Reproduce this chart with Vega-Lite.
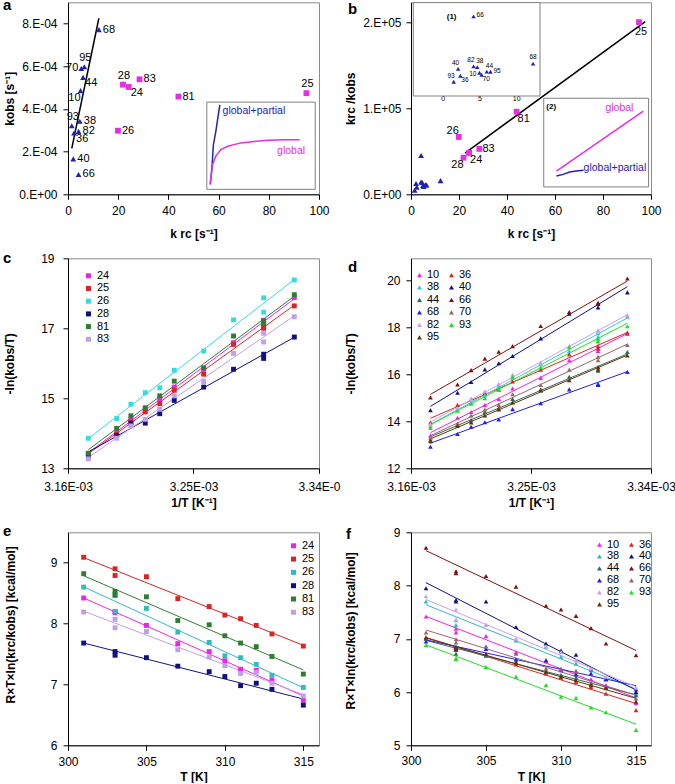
{
"$schema": "https://vega.github.io/schema/vega-lite/v6.json",
"padding": {"left": 2, "top": -2.7, "right": 0, "bottom": 0},
"config": {
 "font": "Liberation Sans",
 "view": {"stroke": "#8c8c8c", "strokeWidth": 1},
 "axis": {"grid": false, "domainColor": "#000000", "tickColor": "#000000", "tickSize": 5, "labelFontSize": 12, "labelColor": "#000000", "labelFont": "Liberation Sans", "titleFont": "Liberation Sans", "titleFontSize": 12, "titleFontWeight": "bold", "titleColor": "#000000", "labelOverlap": false, "labelFlush": false},
 "title": {"fontSize": 15, "fontWeight": "bold", "anchor": "start", "frame": "group", "offset": 0, "color": "#000000"},
 "legend": {"labelFontSize": 11, "labelColor": "#000000", "symbolSize": 25, "labelOffset": 3, "padding": 0, "symbolStrokeWidth": 0}
},
"datasets": {
 "ab": [
  {"id":"68","g":"global+partial","krc":12.3,"kobs":0.000772,"r":15933},
  {"id":"95","g":"global+partial","krc":6.5,"kobs":0.000598,"r":10870},
  {"id":"70","g":"global+partial","krc":5.3,"kobs":0.00059,"r":8983},
  {"id":"44","g":"global+partial","krc":6.0,"kobs":0.000548,"r":10949},
  {"id":"10","g":"global+partial","krc":5.0,"kobs":0.000486,"r":10288},
  {"id":"38","g":"global+partial","krc":4.7,"kobs":0.000342,"r":13743},
  {"id":"93","g":"global+partial","krc":1.5,"kobs":0.000321,"r":4673},
  {"id":"82","g":"global+partial","krc":4.2,"kobs":0.000295,"r":14237},
  {"id":"36","g":"global+partial","krc":2.4,"kobs":0.000287,"r":8362},
  {"id":"40","g":"global+partial","krc":2.1,"kobs":0.000166,"r":12651},
  {"id":"66","g":"global+partial","krc":4.2,"kobs":0.000093,"r":45161},
  {"id":"28","g":"global","krc":21.9,"kobs":0.000514,"r":42607},
  {"id":"24","g":"global","krc":24.2,"kobs":0.000503,"r":48111},
  {"id":"83","g":"global","krc":28.5,"kobs":0.000539,"r":52876},
  {"id":"81","g":"global","krc":44.0,"kobs":0.000458,"r":96070},
  {"id":"26","g":"global","krc":19.9,"kobs":0.000298,"r":66779},
  {"id":"25","g":"global","krc":95.0,"kobs":0.000474,"r":200422}
 ],
 "aBox": [{"x1":55.3,"x2":98.5,"y1":0.0000233,"y2":0.000432}],
 "aCurve": [
  {"g":"global+partial","o":1,"x":56.7,"y":0.0000466},
  {"g":"global+partial","o":2,"x":57.4,"y":0.000132},
  {"g":"global+partial","o":3,"x":57.9,"y":0.00023},
  {"g":"global+partial","o":4,"x":58.9,"y":0.000295},
  {"g":"global+partial","o":5,"x":59.9,"y":0.000373},
  {"g":"global+partial","o":6,"x":60.5,"y":0.000419},
  {"g":"global","o":1,"x":56.6,"y":0.0000466},
  {"g":"global","o":2,"x":57.6,"y":0.00014},
  {"g":"global","o":3,"x":58.9,"y":0.000179},
  {"g":"global","o":4,"x":60.9,"y":0.00021},
  {"g":"global","o":5,"x":63.6,"y":0.000225},
  {"g":"global","o":6,"x":68.9,"y":0.000241},
  {"g":"global","o":7,"x":74.2,"y":0.000248},
  {"g":"global","o":8,"x":79.5,"y":0.000253},
  {"g":"global","o":9,"x":86.1,"y":0.000256},
  {"g":"global","o":10,"x":92.3,"y":0.000256}
 ],
 "aText": [
  {"t":"global+partial","g":"global+partial","x":61.6,"y":0.000391},
  {"t":"global","g":"global","x":83.3,"y":0.000205}
 ],
 "bBox": [
  {"x1":0.96,"x2":53.75,"y1":114430,"y2":223150},
  {"x1":55.3,"x2":99.0,"y1":8600,"y2":111800}
 ],
 "bCurve": [
  {"g":"global","o":1,"x":60.6,"y":27100},
  {"g":"global","o":2,"x":96.8,"y":96700},
  {"g":"global+partial","o":1,"x":60.6,"y":21300},
  {"g":"global+partial","o":2,"x":63.4,"y":23200},
  {"g":"global+partial","o":3,"x":66.1,"y":26000},
  {"g":"global+partial","o":4,"x":68.9,"y":27100},
  {"g":"global+partial","o":5,"x":71.9,"y":27900}
 ],
 "bText": [
  {"t":"global","g":"global","x":81.0,"y":100200},
  {"t":"global+partial","g":"global+partial","x":71.9,"y":31000}
 ],
 "bTag": [{"t":"(2)","x":56.4,"y":101700}],
 "bLine": [{"x":22.5,"y":48000},{"x":97.6,"y":201000}],
 "bTag1": [{"t":"(1)","x":0.55,"y":45000}],
 "ce": [
  {"s":"24","T":315,"it":0.0031746,"l":13.40,"g":6.74},
  {"s":"24","T":313,"it":0.0031949,"l":14.02,"g":7.07},
  {"s":"24","T":312,"it":0.0032051,"l":14.40,"g":7.23},
  {"s":"24","T":311,"it":0.0032154,"l":14.69,"g":7.25},
  {"s":"24","T":310,"it":0.0032258,"l":14.99,"g":7.39},
  {"s":"24","T":309,"it":0.0032362,"l":15.32,"g":7.54},
  {"s":"24","T":307,"it":0.0032573,"l":15.83,"g":7.67},
  {"s":"24","T":305,"it":0.0032787,"l":16.59,"g":7.97},
  {"s":"24","T":303,"it":0.0033003,"l":17.07,"g":8.20},
  {"s":"24","T":303,"it":0.0033003,"l":17.23,"g":8.18},
  {"s":"24","T":301,"it":0.0033223,"l":17.88,"g":8.42},
  {"s":"25","T":315,"it":0.0031746,"l":13.42,"g":7.63},
  {"s":"25","T":313,"it":0.0031949,"l":13.97,"g":7.83},
  {"s":"25","T":312,"it":0.0032051,"l":14.32,"g":7.97},
  {"s":"25","T":311,"it":0.0032154,"l":14.61,"g":8.08},
  {"s":"25","T":310,"it":0.0032258,"l":14.85,"g":8.14},
  {"s":"25","T":309,"it":0.0032362,"l":15.23,"g":8.28},
  {"s":"25","T":307,"it":0.0032573,"l":15.69,"g":8.41},
  {"s":"25","T":305,"it":0.0032787,"l":16.54,"g":8.77},
  {"s":"25","T":303,"it":0.0033003,"l":17.00,"g":8.90},
  {"s":"25","T":303,"it":0.0033003,"l":17.03,"g":8.79},
  {"s":"25","T":301,"it":0.0033223,"l":17.64,"g":9.09},
  {"s":"26","T":315,"it":0.0031746,"l":13.86,"g":6.95},
  {"s":"26","T":313,"it":0.0031949,"l":14.42,"g":7.15},
  {"s":"26","T":312,"it":0.0032051,"l":14.83,"g":7.33},
  {"s":"26","T":311,"it":0.0032154,"l":15.16,"g":7.44},
  {"s":"26","T":310,"it":0.0032258,"l":15.30,"g":7.47},
  {"s":"26","T":309,"it":0.0032362,"l":15.80,"g":7.69},
  {"s":"26","T":307,"it":0.0032573,"l":16.35,"g":7.86},
  {"s":"26","T":305,"it":0.0032787,"l":17.24,"g":8.25},
  {"s":"26","T":303,"it":0.0033003,"l":17.46,"g":8.46},
  {"s":"26","T":303,"it":0.0033003,"l":17.87,"g":8.20},
  {"s":"26","T":301,"it":0.0033223,"l":18.38,"g":8.60},
  {"s":"28","T":315,"it":0.0031746,"l":13.35,"g":6.66},
  {"s":"28","T":313,"it":0.0031949,"l":13.94,"g":6.92},
  {"s":"28","T":312,"it":0.0032051,"l":14.29,"g":7.02},
  {"s":"28","T":311,"it":0.0032154,"l":14.29,"g":6.98},
  {"s":"28","T":310,"it":0.0032258,"l":14.56,"g":7.13},
  {"s":"28","T":309,"it":0.0032362,"l":14.94,"g":7.21},
  {"s":"28","T":307,"it":0.0032573,"l":15.32,"g":7.30},
  {"s":"28","T":305,"it":0.0032787,"l":15.83,"g":7.44},
  {"s":"28","T":303,"it":0.0033003,"l":16.26,"g":7.54},
  {"s":"28","T":303,"it":0.0033003,"l":16.14,"g":7.48},
  {"s":"28","T":301,"it":0.0033223,"l":16.75,"g":7.68},
  {"s":"81","T":315,"it":0.0031746,"l":13.43,"g":7.17},
  {"s":"81","T":313,"it":0.0031949,"l":14.14,"g":7.46},
  {"s":"81","T":312,"it":0.0032051,"l":14.50,"g":7.62},
  {"s":"81","T":311,"it":0.0032154,"l":14.73,"g":7.68},
  {"s":"81","T":310,"it":0.0032258,"l":15.07,"g":7.80},
  {"s":"81","T":309,"it":0.0032362,"l":15.49,"g":7.98},
  {"s":"81","T":307,"it":0.0032573,"l":15.87,"g":8.05},
  {"s":"81","T":305,"it":0.0032787,"l":16.78,"g":8.44},
  {"s":"81","T":303,"it":0.0033003,"l":17.13,"g":8.53},
  {"s":"81","T":303,"it":0.0033003,"l":17.21,"g":8.47},
  {"s":"81","T":301,"it":0.0033223,"l":17.96,"g":8.82},
  {"s":"83","T":315,"it":0.0031746,"l":13.27,"g":6.81},
  {"s":"83","T":313,"it":0.0031949,"l":13.86,"g":7.02},
  {"s":"83","T":312,"it":0.0032051,"l":14.21,"g":7.20},
  {"s":"83","T":311,"it":0.0032154,"l":14.40,"g":7.18},
  {"s":"83","T":310,"it":0.0032258,"l":14.69,"g":7.31},
  {"s":"83","T":309,"it":0.0032362,"l":15.07,"g":7.45},
  {"s":"83","T":307,"it":0.0032573,"l":15.48,"g":7.57},
  {"s":"83","T":305,"it":0.0032787,"l":16.28,"g":7.87},
  {"s":"83","T":303,"it":0.0033003,"l":16.61,"g":8.07},
  {"s":"83","T":303,"it":0.0033003,"l":16.86,"g":7.93},
  {"s":"83","T":301,"it":0.0033223,"l":17.33,"g":8.19}
 ],
 "df": [
  {"s":"10","T":315,"it":0.0031746,"l":13.40,"g":5.79},
  {"s":"10","T":313,"it":0.0031949,"l":14.15,"g":6.13},
  {"s":"10","T":312,"it":0.0032051,"l":14.40,"g":6.24},
  {"s":"10","T":311,"it":0.0032154,"l":14.70,"g":6.38},
  {"s":"10","T":310,"it":0.0032258,"l":14.95,"g":6.44},
  {"s":"10","T":309,"it":0.0032362,"l":15.40,"g":6.58},
  {"s":"10","T":307,"it":0.0032573,"l":15.85,"g":6.75},
  {"s":"10","T":305,"it":0.0032787,"l":16.60,"g":7.05},
  {"s":"10","T":303,"it":0.0033003,"l":17.00,"g":7.19},
  {"s":"10","T":303,"it":0.0033003,"l":17.10,"g":7.12},
  {"s":"10","T":301,"it":0.0033223,"l":17.72,"g":7.42},
  {"s":"36","T":315,"it":0.0031746,"l":13.95,"g":5.66},
  {"s":"36","T":313,"it":0.0031949,"l":14.70,"g":5.97},
  {"s":"36","T":312,"it":0.0032051,"l":14.95,"g":6.09},
  {"s":"36","T":311,"it":0.0032154,"l":15.20,"g":6.19},
  {"s":"36","T":310,"it":0.0032258,"l":15.35,"g":6.27},
  {"s":"36","T":309,"it":0.0032362,"l":15.70,"g":6.35},
  {"s":"36","T":307,"it":0.0032573,"l":16.20,"g":6.52},
  {"s":"36","T":305,"it":0.0032787,"l":16.85,"g":6.68},
  {"s":"36","T":303,"it":0.0033003,"l":17.10,"g":6.83},
  {"s":"36","T":303,"it":0.0033003,"l":17.20,"g":6.80},
  {"s":"36","T":301,"it":0.0033223,"l":17.78,"g":7.01},
  {"s":"38","T":315,"it":0.0031746,"l":13.80,"g":5.97},
  {"s":"38","T":313,"it":0.0031949,"l":14.50,"g":6.25},
  {"s":"38","T":312,"it":0.0032051,"l":14.80,"g":6.41},
  {"s":"38","T":311,"it":0.0032154,"l":15.10,"g":6.53},
  {"s":"38","T":310,"it":0.0032258,"l":15.50,"g":6.66},
  {"s":"38","T":309,"it":0.0032362,"l":15.85,"g":6.85},
  {"s":"38","T":307,"it":0.0032573,"l":16.45,"g":6.97},
  {"s":"38","T":305,"it":0.0032787,"l":17.00,"g":7.26},
  {"s":"38","T":303,"it":0.0033003,"l":17.75,"g":7.26},
  {"s":"38","T":303,"it":0.0033003,"l":17.60,"g":7.35},
  {"s":"38","T":301,"it":0.0033223,"l":18.45,"g":7.70},
  {"s":"40","T":315,"it":0.0031746,"l":14.47,"g":6.00},
  {"s":"40","T":313,"it":0.0031949,"l":15.22,"g":6.24},
  {"s":"40","T":312,"it":0.0032051,"l":15.67,"g":6.43},
  {"s":"40","T":311,"it":0.0032154,"l":16.21,"g":6.70},
  {"s":"40","T":310,"it":0.0032258,"l":16.47,"g":6.78},
  {"s":"40","T":309,"it":0.0032362,"l":16.78,"g":6.91},
  {"s":"40","T":307,"it":0.0032573,"l":17.53,"g":7.22},
  {"s":"40","T":305,"it":0.0032787,"l":18.58,"g":7.70},
  {"s":"40","T":303,"it":0.0033003,"l":18.85,"g":7.73},
  {"s":"40","T":303,"it":0.0033003,"l":19.00,"g":7.70},
  {"s":"40","T":301,"it":0.0033223,"l":19.49,"g":7.95},
  {"s":"44","T":315,"it":0.0031746,"l":13.22,"g":5.94},
  {"s":"44","T":313,"it":0.0031949,"l":13.85,"g":6.07},
  {"s":"44","T":312,"it":0.0032051,"l":14.05,"g":6.16},
  {"s":"44","T":311,"it":0.0032154,"l":14.40,"g":6.27},
  {"s":"44","T":310,"it":0.0032258,"l":14.55,"g":6.32},
  {"s":"44","T":309,"it":0.0032362,"l":14.95,"g":6.38},
  {"s":"44","T":307,"it":0.0032573,"l":15.30,"g":6.57},
  {"s":"44","T":305,"it":0.0032787,"l":15.90,"g":6.69},
  {"s":"44","T":303,"it":0.0033003,"l":16.30,"g":6.72},
  {"s":"44","T":303,"it":0.0033003,"l":16.15,"g":6.85},
  {"s":"44","T":301,"it":0.0033223,"l":16.95,"g":7.00},
  {"s":"66","T":315,"it":0.0031746,"l":15.02,"g":6.69},
  {"s":"66","T":313,"it":0.0031949,"l":15.57,"g":6.91},
  {"s":"66","T":312,"it":0.0032051,"l":16.18,"g":7.20},
  {"s":"66","T":311,"it":0.0032154,"l":16.67,"g":7.43},
  {"s":"66","T":310,"it":0.0032258,"l":16.96,"g":7.55},
  {"s":"66","T":309,"it":0.0032362,"l":17.20,"g":7.62},
  {"s":"66","T":307,"it":0.0032573,"l":18.06,"g":7.98},
  {"s":"66","T":305,"it":0.0032787,"l":18.65,"g":8.18},
  {"s":"66","T":303,"it":0.0033003,"l":19.05,"g":8.27},
  {"s":"66","T":303,"it":0.0033003,"l":19.00,"g":8.23},
  {"s":"66","T":301,"it":0.0033223,"l":20.08,"g":8.71},
  {"s":"68","T":315,"it":0.0031746,"l":12.92,"g":6.05},
  {"s":"68","T":313,"it":0.0031949,"l":13.46,"g":6.24},
  {"s":"68","T":312,"it":0.0032051,"l":13.77,"g":6.35},
  {"s":"68","T":311,"it":0.0032154,"l":13.96,"g":6.33},
  {"s":"68","T":310,"it":0.0032258,"l":14.08,"g":6.41},
  {"s":"68","T":309,"it":0.0032362,"l":14.52,"g":6.60},
  {"s":"68","T":307,"it":0.0032573,"l":14.77,"g":6.61},
  {"s":"68","T":305,"it":0.0032787,"l":15.36,"g":6.81},
  {"s":"68","T":303,"it":0.0033003,"l":15.59,"g":6.84},
  {"s":"68","T":303,"it":0.0033003,"l":15.55,"g":6.80},
  {"s":"68","T":301,"it":0.0033223,"l":16.10,"g":6.95},
  {"s":"70","T":315,"it":0.0031746,"l":13.30,"g":5.88},
  {"s":"70","T":313,"it":0.0031949,"l":13.90,"g":6.10},
  {"s":"70","T":312,"it":0.0032051,"l":14.25,"g":6.13},
  {"s":"70","T":311,"it":0.0032154,"l":14.50,"g":6.40},
  {"s":"70","T":310,"it":0.0032258,"l":14.70,"g":6.42},
  {"s":"70","T":309,"it":0.0032362,"l":15.15,"g":6.44},
  {"s":"70","T":307,"it":0.0032573,"l":15.55,"g":6.72},
  {"s":"70","T":305,"it":0.0032787,"l":16.20,"g":6.86},
  {"s":"70","T":303,"it":0.0033003,"l":16.60,"g":6.99},
  {"s":"70","T":303,"it":0.0033003,"l":16.75,"g":6.93},
  {"s":"70","T":301,"it":0.0033223,"l":17.25,"g":7.12},
  {"s":"82","T":315,"it":0.0031746,"l":13.88,"g":6.08},
  {"s":"82","T":313,"it":0.0031949,"l":14.55,"g":6.29},
  {"s":"82","T":312,"it":0.0032051,"l":14.95,"g":6.44},
  {"s":"82","T":311,"it":0.0032154,"l":15.28,"g":6.60},
  {"s":"82","T":310,"it":0.0032258,"l":15.60,"g":6.75},
  {"s":"82","T":309,"it":0.0032362,"l":15.98,"g":6.86},
  {"s":"82","T":307,"it":0.0032573,"l":16.50,"g":7.00},
  {"s":"82","T":305,"it":0.0032787,"l":17.20,"g":7.26},
  {"s":"82","T":303,"it":0.0033003,"l":17.88,"g":7.55},
  {"s":"82","T":303,"it":0.0033003,"l":17.80,"g":7.36},
  {"s":"82","T":301,"it":0.0033223,"l":18.52,"g":7.80},
  {"s":"93","T":315,"it":0.0031746,"l":13.72,"g":5.29},
  {"s":"93","T":313,"it":0.0031949,"l":14.45,"g":5.62},
  {"s":"93","T":312,"it":0.0032051,"l":14.75,"g":5.71},
  {"s":"93","T":311,"it":0.0032154,"l":14.98,"g":5.89},
  {"s":"93","T":310,"it":0.0032258,"l":15.35,"g":5.91},
  {"s":"93","T":309,"it":0.0032362,"l":15.90,"g":6.13},
  {"s":"93","T":307,"it":0.0032573,"l":16.30,"g":6.29},
  {"s":"93","T":305,"it":0.0032787,"l":17.15,"g":6.47},
  {"s":"93","T":303,"it":0.0033003,"l":17.40,"g":6.63},
  {"s":"93","T":303,"it":0.0033003,"l":17.50,"g":6.62},
  {"s":"93","T":301,"it":0.0033223,"l":18.05,"g":6.88},
  {"s":"95","T":315,"it":0.0031746,"l":13.15,"g":5.82},
  {"s":"95","T":313,"it":0.0031949,"l":13.80,"g":6.08},
  {"s":"95","T":312,"it":0.0032051,"l":13.95,"g":6.13},
  {"s":"95","T":311,"it":0.0032154,"l":14.25,"g":6.22},
  {"s":"95","T":310,"it":0.0032258,"l":14.50,"g":6.29},
  {"s":"95","T":309,"it":0.0032362,"l":14.80,"g":6.38},
  {"s":"95","T":307,"it":0.0032573,"l":15.35,"g":6.55},
  {"s":"95","T":305,"it":0.0032787,"l":15.75,"g":6.72},
  {"s":"95","T":303,"it":0.0033003,"l":16.30,"g":6.83},
  {"s":"95","T":303,"it":0.0033003,"l":16.20,"g":6.80},
  {"s":"95","T":301,"it":0.0033223,"l":16.80,"g":7.03}
 ]
},
"columns": 2,
"spacing": {"row": 64, "column": 92},
"bounds": "flush",
"resolve": {"scale": {"x": "independent", "y": "independent", "color": "independent", "shape": "independent"}},
"concat": [
 {
  "width": 251, "height": 192,
  "title": {"text": "a", "dx": -65, "dy": 15},
  "layer": [
   {"data": {"name": "aBox"}, "mark": {"type": "rect", "fill": "white", "stroke": "#808080", "strokeWidth": 1},
    "encoding": {
     "x": {"field": "x1", "type": "quantitative", "scale": {"domain": [0, 100], "nice": false, "zero": false}, "axis": {"values": [0, 20, 40, 60, 80, 100], "title": "k rc [s⁻¹]", "labelPadding": 6, "titleY": 34}},
     "x2": {"field": "x2"},
     "y": {"field": "y1", "type": "quantitative", "scale": {"domain": [0, 0.0009], "nice": false, "zero": false}, "axis": {"values": [0, 0.0002, 0.0004, 0.0006, 0.0008], "labelExpr": "datum.value == 0 ? '0.E+00' : format(datum.value * 10000, '.0f') + '.E-04'", "title": "kobs [s⁻¹]", "labelPadding": 6, "titleX": -52}},
     "y2": {"field": "y2"}}},
   {"data": {"name": "aCurve"}, "mark": {"type": "line", "strokeWidth": 1.5},
    "encoding": {"x": {"field": "x", "type": "quantitative"}, "y": {"field": "y", "type": "quantitative"}, "color": {"field": "g", "type": "nominal", "scale": {"domain": ["global", "global+partial"], "range": ["#E52EE5", "#2121B5"]}, "legend": null}, "order": {"field": "o"}}},
   {"data": {"name": "aText"}, "mark": {"type": "text", "align": "left", "fontSize": 10.5},
    "encoding": {"x": {"field": "x", "type": "quantitative"}, "y": {"field": "y", "type": "quantitative"}, "text": {"field": "t"}, "color": {"field": "g", "type": "nominal", "legend": null}}},
   {"data": {"name": "ab"}, "transform": [{"filter": "datum.g == 'global+partial'"}, {"regression": "kobs", "on": "krc"}], "mark": {"type": "line", "color": "#000000", "strokeWidth": 1.5},
    "encoding": {"x": {"field": "krc", "type": "quantitative"}, "y": {"field": "kobs", "type": "quantitative"}}},
   {"data": {"name": "ab"}, "mark": {"type": "point", "filled": true, "opacity": 1, "size": 34},
    "encoding": {"x": {"field": "krc", "type": "quantitative"}, "y": {"field": "kobs", "type": "quantitative"}, "color": {"field": "g", "type": "nominal", "legend": null}, "shape": {"field": "g", "type": "nominal", "scale": {"domain": ["global", "global+partial"], "range": ["square", "triangle-up"]}, "legend": null}}},
   {"data": {"name": "ab"}, "transform": [{"filter": {"field": "id", "oneOf": ["68", "82", "40", "66", "83", "81", "26", "38"]}}], "mark": {"type": "text", "align": "left", "dx": 4, "dy": 0, "fontSize": 11},
    "encoding": {"x": {"field": "krc", "type": "quantitative"}, "y": {"field": "kobs", "type": "quantitative"}, "text": {"field": "id"}}},
   {"data": {"name": "ab"}, "transform": [{"filter": {"field": "id", "oneOf": ["95", "28", "25", "93"]}}], "mark": {"type": "text", "align": "center", "dx": 1, "dy": -9, "fontSize": 11},
    "encoding": {"x": {"field": "krc", "type": "quantitative"}, "y": {"field": "kobs", "type": "quantitative"}, "text": {"field": "id"}}},
   {"data": {"name": "ab"}, "transform": [{"filter": {"field": "id", "oneOf": ["70"]}}], "mark": {"type": "text", "align": "right", "dx": -3, "dy": 0, "fontSize": 11},
    "encoding": {"x": {"field": "krc", "type": "quantitative"}, "y": {"field": "kobs", "type": "quantitative"}, "text": {"field": "id"}}},
   {"data": {"name": "ab"}, "transform": [{"filter": {"field": "id", "oneOf": ["44", "24", "36"]}}], "mark": {"type": "text", "align": "left", "dx": 2, "dy": 6, "fontSize": 11},
    "encoding": {"x": {"field": "krc", "type": "quantitative"}, "y": {"field": "kobs", "type": "quantitative"}, "text": {"field": "id"}}},
   {"data": {"name": "ab"}, "transform": [{"filter": {"field": "id", "oneOf": ["10"]}}], "mark": {"type": "text", "align": "right", "dx": 0, "dy": 7, "fontSize": 11},
    "encoding": {"x": {"field": "krc", "type": "quantitative"}, "y": {"field": "kobs", "type": "quantitative"}, "text": {"field": "id"}}}
  ]
 },
 {
  "width": 240, "height": 192,
  "title": {"text": "b", "dx": -63, "dy": 19},
  "layer": [
   {"layer": [
    {"data": {"name": "bBox"}, "mark": {"type": "rect", "fill": "white", "stroke": "#808080", "strokeWidth": 1},
     "encoding": {
      "x": {"field": "x1", "type": "quantitative", "scale": {"domain": [0, 100], "nice": false, "zero": false}, "axis": {"values": [0, 20, 40, 60, 80, 100], "title": "k rc [s⁻¹]", "labelPadding": 6, "titleY": 34}},
      "x2": {"field": "x2"},
      "y": {"field": "y1", "type": "quantitative", "scale": {"domain": [0, 223500], "nice": false, "zero": false}, "axis": {"values": [0, 100000, 200000], "labelExpr": "datum.value == 0 ? '0.E+00' : format(datum.value / 100000, '.0f') + '.E+05'", "title": "krc /kobs", "labelPadding": 5, "titleX": -53}},
      "y2": {"field": "y2"}}},
    {"data": {"name": "bCurve"}, "mark": {"type": "line", "strokeWidth": 1.5},
     "encoding": {"x": {"field": "x", "type": "quantitative"}, "y": {"field": "y", "type": "quantitative"}, "color": {"field": "g", "type": "nominal", "scale": {"domain": ["global", "global+partial"], "range": ["#E52EE5", "#2121B5"]}, "legend": null}, "order": {"field": "o"}}},
    {"data": {"name": "bText"}, "mark": {"type": "text", "align": "left", "fontSize": 10.5},
     "encoding": {"x": {"field": "x", "type": "quantitative"}, "y": {"field": "y", "type": "quantitative"}, "text": {"field": "t"}, "color": {"field": "g", "type": "nominal", "legend": null}}},
    {"data": {"name": "bTag"}, "mark": {"type": "text", "align": "left", "fontSize": 8, "fontWeight": "bold", "color": "#000000"},
     "encoding": {"x": {"field": "x", "type": "quantitative"}, "y": {"field": "y", "type": "quantitative"}, "text": {"field": "t"}}},
    {"data": {"name": "bLine"}, "mark": {"type": "line", "color": "#000000", "strokeWidth": 1.5},
     "encoding": {"x": {"field": "x", "type": "quantitative"}, "y": {"field": "y", "type": "quantitative"}}},
    {"data": {"name": "ab"}, "mark": {"type": "point", "filled": true, "opacity": 1, "size": 34},
     "encoding": {"x": {"field": "krc", "type": "quantitative"}, "y": {"field": "r", "type": "quantitative"}, "color": {"field": "g", "type": "nominal", "legend": null}, "shape": {"field": "g", "type": "nominal", "scale": {"domain": ["global", "global+partial"], "range": ["square", "triangle-up"]}, "legend": null}}},
    {"data": {"name": "ab"}, "transform": [{"filter": {"field": "id", "oneOf": ["26"]}}], "mark": {"type": "text", "align": "right", "dx": 0, "dy": -6, "fontSize": 11},
     "encoding": {"x": {"field": "krc", "type": "quantitative"}, "y": {"field": "r", "type": "quantitative"}, "text": {"field": "id"}}},
    {"data": {"name": "ab"}, "transform": [{"filter": {"field": "id", "oneOf": ["28"]}}], "mark": {"type": "text", "align": "right", "dx": 0, "dy": 7, "fontSize": 11},
     "encoding": {"x": {"field": "krc", "type": "quantitative"}, "y": {"field": "r", "type": "quantitative"}, "text": {"field": "id"}}},
    {"data": {"name": "ab"}, "transform": [{"filter": {"field": "id", "oneOf": ["24", "81"]}}], "mark": {"type": "text", "align": "left", "dx": 1, "dy": 7, "fontSize": 11},
     "encoding": {"x": {"field": "krc", "type": "quantitative"}, "y": {"field": "r", "type": "quantitative"}, "text": {"field": "id"}}},
    {"data": {"name": "ab"}, "transform": [{"filter": {"field": "id", "oneOf": ["83"]}}], "mark": {"type": "text", "align": "left", "dx": 3, "dy": 0, "fontSize": 11},
     "encoding": {"x": {"field": "krc", "type": "quantitative"}, "y": {"field": "r", "type": "quantitative"}, "text": {"field": "id"}}},
    {"data": {"name": "ab"}, "transform": [{"filter": {"field": "id", "oneOf": ["25"]}}], "mark": {"type": "text", "align": "center", "dx": 2, "dy": 10, "fontSize": 11},
     "encoding": {"x": {"field": "krc", "type": "quantitative"}, "y": {"field": "r", "type": "quantitative"}, "text": {"field": "id"}}}
   ]},
   {"layer": [
    {"data": {"name": "ab"}, "transform": [{"filter": "datum.g == 'global+partial'"}], "mark": {"type": "point", "shape": "triangle-up", "filled": true, "opacity": 1, "size": 20, "color": "#2121B5"},
     "encoding": {
      "x": {"field": "krc", "type": "quantitative", "scale": {"domain": [0, 12.7], "range": [31.7, 125], "nice": false, "zero": false}, "axis": {"orient": "bottom", "offset": -105, "values": [0, 5, 10], "title": null, "labelFontSize": 7, "tickSize": 3, "labelPadding": 2}},
      "y": {"field": "r", "type": "quantitative", "scale": {"domain": [0, 50000], "range": [87, 6.3], "nice": false, "zero": false}, "axis": {"orient": "left", "offset": -31.7, "values": [0, 50000], "labelExpr": "datum.value == 0 ? '0.E+00' : '5.E+04'", "title": null, "labelFontSize": 6.5, "tickSize": 3, "labelPadding": 2}}}},
    {"data": {"name": "bTag1"}, "mark": {"type": "text", "align": "left", "fontSize": 8, "fontWeight": "bold", "color": "#000000"},
     "encoding": {"x": {"field": "x", "type": "quantitative"}, "y": {"field": "y", "type": "quantitative"}, "text": {"field": "t"}}},
    {"data": {"name": "ab"}, "transform": [{"filter": {"field": "id", "oneOf": ["82", "40", "93"]}}], "mark": {"type": "text", "align": "right", "dx": 1, "dy": -6, "fontSize": 6.5},
     "encoding": {"x": {"field": "krc", "type": "quantitative"}, "y": {"field": "r", "type": "quantitative"}, "text": {"field": "id"}}},
    {"data": {"name": "ab"}, "transform": [{"filter": {"field": "id", "oneOf": ["38", "44"]}}], "mark": {"type": "text", "align": "left", "dx": -1, "dy": -6, "fontSize": 6.5},
     "encoding": {"x": {"field": "krc", "type": "quantitative"}, "y": {"field": "r", "type": "quantitative"}, "text": {"field": "id"}}},
    {"data": {"name": "ab"}, "transform": [{"filter": {"field": "id", "oneOf": ["68"]}}], "mark": {"type": "text", "align": "center", "dx": 0, "dy": -7, "fontSize": 6.5},
     "encoding": {"x": {"field": "krc", "type": "quantitative"}, "y": {"field": "r", "type": "quantitative"}, "text": {"field": "id"}}},
    {"data": {"name": "ab"}, "transform": [{"filter": {"field": "id", "oneOf": ["66", "95"]}}], "mark": {"type": "text", "align": "left", "dx": 3, "dy": -1, "fontSize": 6.5},
     "encoding": {"x": {"field": "krc", "type": "quantitative"}, "y": {"field": "r", "type": "quantitative"}, "text": {"field": "id"}}},
    {"data": {"name": "ab"}, "transform": [{"filter": {"field": "id", "oneOf": ["10"]}}], "mark": {"type": "text", "align": "right", "dx": -3, "dy": 1, "fontSize": 6.5},
     "encoding": {"x": {"field": "krc", "type": "quantitative"}, "y": {"field": "r", "type": "quantitative"}, "text": {"field": "id"}}},
    {"data": {"name": "ab"}, "transform": [{"filter": {"field": "id", "oneOf": ["70", "36"]}}], "mark": {"type": "text", "align": "left", "dx": 1, "dy": 4, "fontSize": 6.5},
     "encoding": {"x": {"field": "krc", "type": "quantitative"}, "y": {"field": "r", "type": "quantitative"}, "text": {"field": "id"}}}
   ]}
  ],
  "resolve": {"scale": {"x": "independent", "y": "independent"}, "axis": {"x": "independent", "y": "independent"}}
 },
 {
  "width": 251, "height": 210,
  "title": {"text": "c", "dx": -65, "dy": 18},
  "data": {"name": "ce"},
  "layer": [
   {"transform": [{"regression": "l", "on": "it", "groupby": ["s"]}], "mark": {"type": "line", "strokeWidth": 1},
    "encoding": {
     "x": {"field": "it", "type": "quantitative", "scale": {"domain": [0.00316, 0.00334], "nice": false, "zero": false}, "axis": {"values": [0.00316, 0.00325, 0.00334], "labelExpr": "datum.value > 0.00333 ? '3.34E-0' : format(datum.value * 1000, '.2f') + 'E-03'", "title": "1/T [K⁻¹]", "labelPadding": 8, "titleY": 29}},
     "y": {"field": "l", "type": "quantitative", "scale": {"domain": [13, 19], "nice": false, "zero": false}, "axis": {"values": [13, 15, 17, 19], "title": "-ln(kobs/T)", "labelPadding": 9, "titleX": -52}},
     "color": {"field": "s", "type": "nominal", "scale": {"domain": ["24", "25", "26", "28", "81", "83"], "range": ["#EE22EE", "#DD2222", "#33DDDD", "#101080", "#2E7D32", "#C0A0E8"]}}}},
   {"mark": {"type": "square", "size": 24, "opacity": 1},
    "encoding": {
     "x": {"field": "it", "type": "quantitative"},
     "y": {"field": "l", "type": "quantitative"},
     "color": {"field": "s", "type": "nominal", "legend": {"title": null, "orient": "none", "legendX": 15, "legendY": 12, "rowPadding": 0.7, "symbolType": "square"}}}}
  ]
 },
 {
  "width": 240, "height": 210,
  "title": {"text": "d", "dx": -63, "dy": 21},
  "data": {"name": "df"},
  "layer": [
   {"transform": [{"regression": "l", "on": "it", "groupby": ["s"]}], "mark": {"type": "line", "strokeWidth": 1},
    "encoding": {
     "x": {"field": "it", "type": "quantitative", "scale": {"domain": [0.00316, 0.00334], "nice": false, "zero": false}, "axis": {"values": [0.00316, 0.00325, 0.00334], "labelExpr": "format(datum.value * 1000, '.2f') + 'E-03'", "title": "1/T [K⁻¹]", "labelPadding": 8, "titleY": 29}},
     "y": {"field": "l", "type": "quantitative", "scale": {"domain": [12, 20.94], "nice": false, "zero": false}, "axis": {"values": [12, 14, 16, 18, 20], "title": "-ln(kobs/T)", "labelPadding": 6, "titleX": -53}},
     "color": {"field": "s", "type": "nominal", "scale": {"domain": ["10", "36", "38", "40", "44", "66", "68", "70", "82", "93", "95"], "range": ["#EE22EE", "#E02424", "#33CCCC", "#101080", "#336666", "#801010", "#2020E0", "#9A6666", "#C8A0F0", "#22DD22", "#663300"]}}}},
   {"mark": {"type": "point", "shape": "triangle-up", "filled": true, "size": 22, "opacity": 1},
    "encoding": {
     "x": {"field": "it", "type": "quantitative"},
     "y": {"field": "l", "type": "quantitative"},
     "color": {"field": "s", "type": "nominal", "legend": {"title": null, "orient": "none", "direction": "horizontal", "legendX": 3, "legendY": 11, "columns": 2, "columnPadding": 6, "rowPadding": 0.5, "labelOffset": 2, "symbolType": "triangle-up"}}}}
  ]
 },
 {
  "width": 251, "height": 213,
  "title": {"text": "e", "dx": -65, "dy": 11},
  "data": {"name": "ce"},
  "layer": [
   {"transform": [{"regression": "g", "on": "T", "groupby": ["s"]}], "mark": {"type": "line", "strokeWidth": 1},
    "encoding": {
     "x": {"field": "T", "type": "quantitative", "scale": {"domain": [300, 316], "nice": false, "zero": false}, "axis": {"values": [300, 305, 310, 315], "title": "T [K]", "labelPadding": 6, "titleY": 26}},
     "y": {"field": "g", "type": "quantitative", "scale": {"domain": [6, 9.5], "nice": false, "zero": false}, "axis": {"values": [6, 7, 8, 9], "format": ".0f", "title": "R×T×ln(krc/kobs) [kcal/mol]", "labelPadding": 6, "titleX": -51, "titleY": 92}},
     "color": {"field": "s", "type": "nominal", "scale": {"domain": ["24", "25", "26", "28", "81", "83"], "range": ["#EE22EE", "#DD2222", "#33BBBB", "#101080", "#2E7D32", "#C0A0E0"]}}}},
   {"mark": {"type": "square", "size": 24, "opacity": 1},
    "encoding": {
     "x": {"field": "T", "type": "quantitative"},
     "y": {"field": "g", "type": "quantitative"},
     "color": {"field": "s", "type": "nominal", "legend": {"title": null, "orient": "none", "legendX": 220, "legendY": 8, "rowPadding": 1.3, "symbolType": "square"}}}}
  ]
 },
 {
  "width": 240, "height": 213,
  "title": {"text": "f", "dx": -65, "dy": 20},
  "data": {"name": "df"},
  "layer": [
   {"transform": [{"regression": "g", "on": "T", "groupby": ["s"]}], "mark": {"type": "line", "strokeWidth": 1},
    "encoding": {
     "x": {"field": "T", "type": "quantitative", "scale": {"domain": [300, 316], "nice": false, "zero": false}, "axis": {"values": [300, 305, 310, 315], "title": "T [K]", "labelPadding": 5, "titleY": 26}},
     "y": {"field": "g", "type": "quantitative", "scale": {"domain": [5, 9], "nice": false, "zero": false}, "axis": {"values": [5, 6, 7, 8, 9], "format": ".0f", "title": "R×T×ln(krc/kobs) [kcal/mol]", "labelPadding": 6, "titleX": -53, "titleY": 98}},
     "color": {"field": "s", "type": "nominal", "scale": {"domain": ["10", "36", "38", "40", "44", "66", "68", "70", "82", "93", "95"], "range": ["#EE22EE", "#E02424", "#33BBBB", "#101080", "#336666", "#801010", "#2020E0", "#9A6666", "#C8A0F0", "#22DD22", "#663300"]}}}},
   {"mark": {"type": "point", "shape": "triangle-up", "filled": true, "size": 22, "opacity": 1},
    "encoding": {
     "x": {"field": "T", "type": "quantitative"},
     "y": {"field": "g", "type": "quantitative"},
     "color": {"field": "s", "type": "nominal", "legend": {"title": null, "orient": "none", "direction": "horizontal", "legendX": 183, "legendY": 6.5, "columns": 2, "columnPadding": 6, "rowPadding": 0, "labelOffset": 2, "symbolType": "triangle-up"}}}}
  ]
 }
]
}
